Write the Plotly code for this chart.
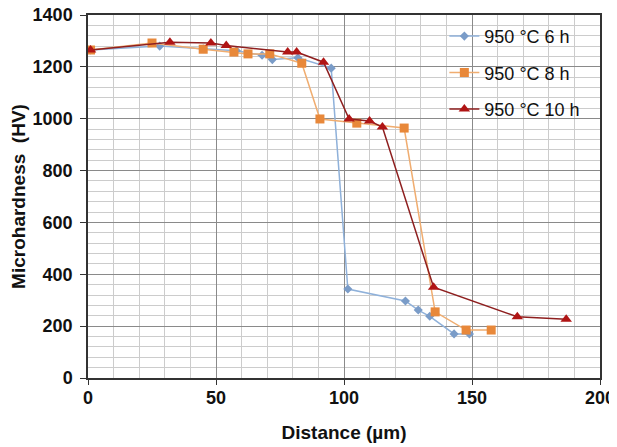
import plotly.graph_objects as go

x6 = [1, 28, 45, 58, 68, 72, 82, 95, 101.5, 124, 129, 133.5, 143, 149]
y6 = [1265, 1280, 1270, 1262, 1245, 1228, 1235, 1195, 343, 297, 262, 238, 170, 170]
x8 = [1, 25, 45, 57, 62.5, 71, 83.5, 90.6, 105, 123.5, 135.6, 147.7, 157.5]
y8 = [1265, 1292, 1268, 1257, 1250, 1250, 1214, 999, 983, 964, 255, 185, 185]
x10 = [1, 32, 48, 54, 78, 81.5, 92, 102, 110, 115, 135, 167.7, 186.8]
y10 = [1265, 1295, 1292, 1282, 1257, 1257, 1218, 999, 991, 968, 350, 236, 227]
names = ["950 °C 6 h", "950 °C 8 h", "950 °C 10 h"]

fig = go.Figure()
fig.add_trace(go.Scatter(x=x6, y=y6, name=names[0], mode="lines+markers", legendgroup="a",
                         line=dict(color="#8FB1DA", width=1.5),
                         marker=dict(symbol="diamond", size=7, color="#7A9CC8")))
fig.add_trace(go.Scatter(x=x8, y=y8, name=names[1], mode="lines+markers", legendgroup="b",
                         line=dict(color="#F0AD70", width=1.5),
                         marker=dict(symbol="square", size=9, color="#E8883A")))
fig.add_trace(go.Scatter(x=x10, y=y10, name=names[2], mode="lines+markers", legendgroup="c",
                         line=dict(color="#8E1F1F", width=1.5),
                         marker=dict(symbol="triangle-up", size=10, color="#B01515")))

font = "Liberation Sans, Arial, sans-serif"
fig.update_layout(
    width=609, height=439,
    margin=dict(l=80, r=17, t=7, b=69),
    paper_bgcolor="white", plot_bgcolor="white",
    font=dict(family=font, size=14, color="#111"),
    showlegend=True,
    legend=dict(x=0.696, y=0.992, xanchor="left", yanchor="top", traceorder="grouped",
                bgcolor="rgba(0,0,0,0)", font=dict(size=18, color="#111"),
                tracegroupgap=10),
    xaxis=dict(range=[0, 200], dtick=50, showgrid=True, gridcolor="#8a8a8a", gridwidth=1,
               minor=dict(dtick=10, showgrid=True, gridcolor="#cccccc", gridwidth=1),
               showline=True, linecolor="#333", linewidth=1.5, mirror=True,
               ticks="outside", ticklen=5, tickcolor="#333", zeroline=False, automargin=False,
               ticklabelstandoff=-2, ticklabeloverflow="allow",
               tickfont=dict(size=18, family=font, weight="bold"),
               title=dict(text="Distance (µm)", font=dict(size=19, weight="bold"), standoff=18)),
    yaxis=dict(range=[0, 1400], dtick=200, showgrid=True, gridcolor="#8a8a8a", gridwidth=1,
               minor=dict(dtick=40, showgrid=True, gridcolor="#cccccc", gridwidth=1),
               showline=True, linecolor="#333", linewidth=1.5, mirror=True,
               ticks="outside", ticklen=6, tickcolor="#333", zeroline=False, automargin=False,
               ticklabelstandoff=4, ticklabeloverflow="allow",
               tickfont=dict(size=18, family=font, weight="bold"),
               title=dict(text="Microhardness  (HV)", font=dict(size=19, weight="bold"), standoff=8)),
)
fig.write_html("out.html")
